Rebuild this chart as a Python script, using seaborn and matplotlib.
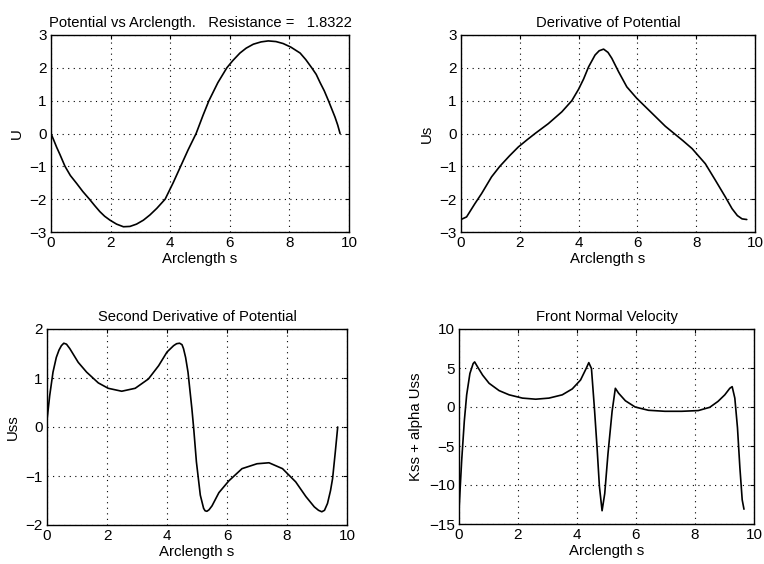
import matplotlib
matplotlib.use("Agg")
import matplotlib.pyplot as plt
import seaborn as sns
import pandas as pd

# ---- data ----
s_U = [0.0, 0.1, 0.19, 0.3, 0.47, 0.65, 0.86, 1.07, 1.29, 1.47, 1.64, 1.8, 1.98, 2.2, 2.43,
       2.65, 2.87, 3.1, 3.32, 3.55, 3.83, 4.1, 4.35, 4.6, 4.87, 5.1, 5.3, 5.6, 5.9, 6.1, 6.34,
       6.55, 6.79, 7.05, 7.29, 7.55, 7.79, 8.05, 8.36, 8.55, 8.75, 8.9, 9.03, 9.17, 9.31, 9.42,
       9.53, 9.62, 9.7]
U = [0.0, -0.22, -0.42, -0.64, -1.0, -1.28, -1.52, -1.77, -2.0, -2.2, -2.38, -2.52, -2.64,
     -2.76, -2.84, -2.83, -2.76, -2.64, -2.48, -2.28, -2.0, -1.5, -1.0, -0.5, 0.0, 0.55, 1.0,
     1.55, 2.0, 2.22, 2.45, 2.6, 2.72, 2.79, 2.82, 2.8, 2.74, 2.63, 2.45, 2.25, 2.0, 1.8, 1.55,
     1.3, 1.0, 0.75, 0.5, 0.26, 0.0]

s_Us = [0.0, 0.19, 0.47, 0.7, 1.04, 1.32, 1.65, 1.95, 2.25, 2.52, 2.97, 3.43, 3.77, 4.0, 4.17,
        4.34, 4.56, 4.7, 4.85, 5.0, 5.13, 5.36, 5.64, 5.98, 6.38, 6.95, 7.25, 7.55, 7.86, 8.31,
        8.65, 8.99, 9.22, 9.4, 9.56, 9.72]
Us = [-2.62, -2.54, -2.14, -1.83, -1.32, -1.0, -0.68, -0.41, -0.19, 0.0, 0.3, 0.66, 1.0,
      1.35, 1.66, 2.03, 2.39, 2.52, 2.57, 2.47, 2.29, 1.88, 1.42, 1.07, 0.72, 0.22, 0.0,
      -0.22, -0.46, -0.92, -1.42, -1.93, -2.29, -2.5, -2.6, -2.62]

s_Uss = [0.0, 0.09, 0.2, 0.31, 0.4, 0.48, 0.56, 0.65, 0.76, 1.04, 1.32, 1.71, 2.04, 2.49,
         2.94, 3.38, 3.72, 4.0, 4.22, 4.32, 4.42, 4.5, 4.55, 4.62, 4.7, 4.83, 4.89, 4.98, 5.11,
         5.22, 5.27, 5.33, 5.4, 5.5, 5.73, 6.06, 6.5, 7.0, 7.4, 7.85, 8.29, 8.63, 8.91, 9.05,
         9.16, 9.25, 9.35, 9.45, 9.52, 9.61, 9.69]
Uss = [0.14, 0.64, 1.12, 1.42, 1.57, 1.66, 1.71, 1.69, 1.6, 1.32, 1.12, 0.9, 0.79, 0.73,
       0.79, 0.98, 1.25, 1.53, 1.66, 1.7, 1.71, 1.68, 1.6, 1.42, 1.12, 0.37, -0.03, -0.71,
       -1.39, -1.66, -1.71, -1.72, -1.69, -1.61, -1.34, -1.1, -0.85, -0.75, -0.73, -0.85,
       -1.12, -1.42, -1.63, -1.7, -1.73, -1.7, -1.56, -1.3, -1.05, -0.51, 0.0]

s_V = [0.0, 0.09, 0.18, 0.26, 0.37, 0.48, 0.53, 0.63, 0.8, 1.02, 1.36, 1.7, 2.15, 2.6, 3.05,
       3.5, 3.84, 4.12, 4.31, 4.4, 4.49, 4.59, 4.68, 4.76, 4.85, 4.94, 5.05, 5.19, 5.3, 5.41,
       5.64, 5.97, 6.42, 6.98, 7.55, 8.11, 8.5, 8.78, 9.01, 9.18, 9.26, 9.35, 9.44, 9.52, 9.6, 9.66]
V = [-13.2, -6.9, -1.8, 1.56, 4.3, 5.57, 5.78, 5.14, 4.09, 3.04, 2.1, 1.56, 1.14, 1.0, 1.14,
     1.56, 2.32, 3.46, 4.93, 5.69, 4.93, -0.13, -5.2, -10.2, -13.3, -11.1, -6.0, -0.55, 2.4, 1.77,
     0.8, 0.0, -0.42, -0.55, -0.55, -0.46, -0.04, 0.72, 1.56, 2.4, 2.61, 1.14, -2.66, -7.7, -11.9, -13.1]

titles = ["Potential vs Arclength.   Resistance =   1.8322",
          "Derivative of Potential",
          "Second Derivative of Potential",
          "Front Normal Velocity"]
ylabels = ["U", "Us", "Uss", "Kss + alpha Uss"]
xlabel = "Arclength s"
xticks = [0, 2, 4, 6, 8, 10]
yticks_list = [[-3, -2, -1, 0, 1, 2, 3],
               [-3, -2, -1, 0, 1, 2, 3],
               [-2, -1, 0, 1, 2],
               [-15, -10, -5, 0, 5, 10]]

sns.set_style("white")
plt.rcParams['font.family'] = ['Liberation Sans', 'DejaVu Sans']
plt.rcParams['font.size'] = 10.5

fig = plt.figure(figsize=(7.64, 5.64), dpi=100)
W, H = 764.0, 564.0
# axes boxes in pixels: left, top, right, bottom
boxes = [(51, 35, 349, 232), (461, 35, 755, 232), (47, 329, 347, 525), (459, 329, 754, 524)]
series = [(s_U, U), (s_Us, Us), (s_Uss, Uss), (s_V, V)]

for i in range(4):
    l, t, r, b = boxes[i]
    ax = fig.add_axes([l / W, 1 - b / H, (r - l) / W, (b - t) / H])
    xs, ys = series[i]
    df = pd.DataFrame({"s": xs, "v": ys})
    sns.lineplot(data=df, x="s", y="v", ax=ax, color="black", linewidth=1.2,
                 sort=False, estimator=None)
    yt = yticks_list[i]
    ax.set_xlim(0, 10)
    ax.set_ylim(yt[0], yt[-1])
    ax.set_xticks(xticks)
    ax.set_yticks(yt)
    ax.set_xticklabels([str(v) for v in xticks])
    ax.set_yticklabels([str(v).replace("-", "\u2212") for v in yt])
    ax.grid(True, color="black", linestyle=(0, (1, 4)), linewidth=0.8)
    for sp in ax.spines.values():
        sp.set_color("black")
        sp.set_linewidth(1.0)
        sp.set_visible(True)
    ax.tick_params(direction="in", length=3, width=0.8, top=True, right=True,
                   labelsize=11, pad=3, colors="black")
    ax.set_title(titles[i], fontsize=10.6, pad=6, color="black")
    ax.set_xlabel(xlabel, fontsize=10.8, labelpad=1, color="black")
    ax.set_ylabel(ylabels[i], fontsize=10.8, labelpad=4, color="black")

fig.savefig("out.png", dpi=100, facecolor="white")
